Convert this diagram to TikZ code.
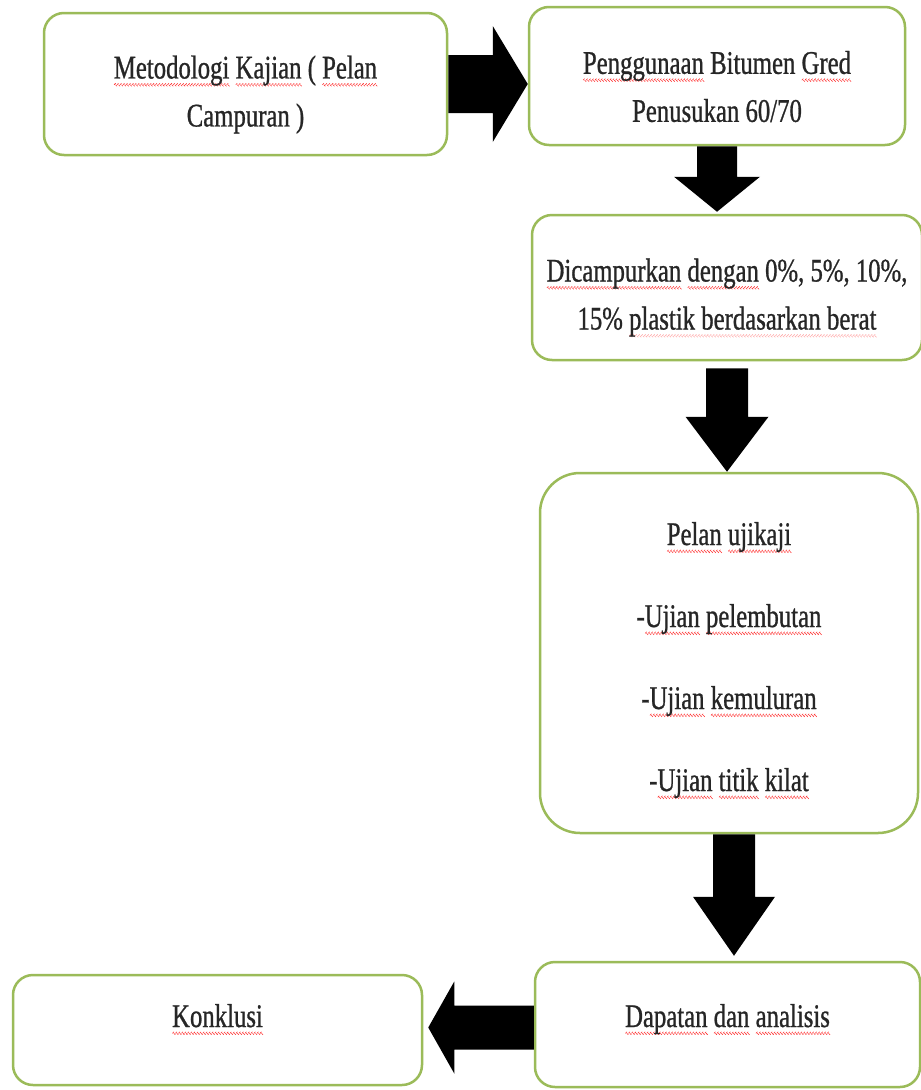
\documentclass[tikz,border=0pt]{standalone}
\usepackage{fontspec}
\setmainfont{Liberation Serif}[FakeStretch=0.75,FakeBold=0.8]
\usetikzlibrary{calc}
\definecolor{boxgreen}{RGB}{155,187,89}
\newsavebox\wavebox
\newsavebox\lwavebox
\newcommand\sq[1]{\setbox0\hbox{#1}\rlap{\raisebox{-6.5pt}{\hbox to \wd0{\xleaders\copy\wavebox\hfil}}}\box0\relax}
\newcommand\faintsq[1]{\setbox0\hbox{#1}\rlap{\raisebox{-6.5pt}{\hbox to \wd0{\xleaders\copy\lwavebox\hfil}}}\box0\relax}
\newcommand\upstrut{\rule{0pt}{44pt}}
\begin{document}
\sbox\wavebox{\color{red!85}\rotatebox{45}{\rule{2.1pt}{0.55pt}}\kern-0.4pt\rotatebox{-45}{\rule{2.1pt}{0.55pt}}\kern-0.4pt}%
\sbox\lwavebox{\color{red!35}\rotatebox{45}{\rule{2.1pt}{0.55pt}}\kern-0.4pt\rotatebox{-45}{\rule{2.1pt}{0.55pt}}\kern-0.4pt}%
\begin{tikzpicture}[x=1pt,y=-1pt,
  box/.style={draw=boxgreen, line width=2.5pt, fill=white, rounded corners=20pt,
    align=center, inner sep=0pt, text=black!85, font=\fontsize{33}{48}\selectfont},
  blockarrow/.style={fill=black, draw=none}]
\useasboundingbox (0,0) rectangle (921,1090);
\fill[white] (0,0) rectangle (921,1090);

% boxes
\node[box, minimum width=403pt, minimum height=142pt] (m) at (245.5,84)
  {\upstrut\sq{Metodologi} \sq{Kajian} ( \sq{Pelan}\\Campuran )};
\node[box, minimum width=376pt, minimum height=138pt] (p) at (717,76)
  {\upstrut\sq{Penggunaan} Bitumen \sq{Gred}\\Penusukan 60/70};
\node[box, minimum width=390pt, minimum height=145pt] (q) at (727,287.5)
  {\upstrut\sq{Dicampurkan} \sq{dengan} 0\%, 5\%, 10\%,\\15\% \faintsq{plastik berdasarkan berat}};
\node[box, minimum width=378pt, minimum height=360pt, rounded corners=40pt,
      font=\fontsize{33}{82}\selectfont] (r) at (729,653)
  {\rule{0pt}{38pt}\sq{Pelan} \sq{ujikaji}\\-\sq{Ujian} \sq{pelembutan}\\-\sq{Ujian} \sq{kemuluran}\\-\sq{Ujian} \sq{titik} \sq{kilat}};
\node[box, minimum width=385pt, minimum height=125pt, text height=20pt, text depth=15pt] (s) at (727.5,1024.5)
  {\sq{Dapatan} \sq{dan} \sq{analisis}};
\node[box, minimum width=409pt, minimum height=110pt, text height=20pt, text depth=26pt] (k) at (217.5,1030)
  {\sq{Konklusi}};

% block arrows
\coordinate (t1) at (p.west |- m.east);
\fill[blockarrow] ($(m.east)+(0,-29)$) -- ($(t1)+(-35,-29)$) -- ($(t1)+(-35,-58)$) -- (t1)
  -- ($(t1)+(-35,58)$) -- ($(t1)+(-35,29)$) -- ($(m.east)+(0,29)$) -- cycle;

\coordinate (t2) at ($(p.south |- q.north)+(0,-2)$);
\fill[blockarrow] ($(p.south)+(-20,0)$) -- ($(t2)+(-20,-35)$) -- ($(t2)+(-43,-35)$) -- (t2)
  -- ($(t2)+(43,-35)$) -- ($(t2)+(20,-35)$) -- ($(p.south)+(20,0)$) -- cycle;

\coordinate (t3) at (q.south |- r.north);
\fill[blockarrow] ($(q.south)+(-21,7)$) -- ($(t3)+(-21,-55)$) -- ($(t3)+(-41.5,-55)$) -- (t3)
  -- ($(t3)+(41.5,-55)$) -- ($(t3)+(21,-55)$) -- ($(q.south)+(21,7)$) -- cycle;

\coordinate (t4) at ($(r.south |- s.north)+(5,-5)$);
\coordinate (s4) at ($(r.south)+(5,0)$);
\fill[blockarrow] ($(s4)+(-21,0)$) -- ($(t4)+(-21,-59)$) -- ($(t4)+(-41,-59)$) -- (t4)
  -- ($(t4)+(41,-59)$) -- ($(t4)+(21,-59)$) -- ($(s4)+(21,0)$) -- cycle;

\coordinate (t5) at ($(k.east |- s.west)+(5,3)$);
\coordinate (s5) at ($(s.west)+(0,3)$);
\fill[blockarrow] ($(s5)+(0,-22)$) -- ($(t5)+(26,-22)$) -- ($(t5)+(26,-46)$) -- (t5)
  -- ($(t5)+(26,46)$) -- ($(t5)+(26,22)$) -- ($(s5)+(0,22)$) -- cycle;
\end{tikzpicture}
\end{document}
